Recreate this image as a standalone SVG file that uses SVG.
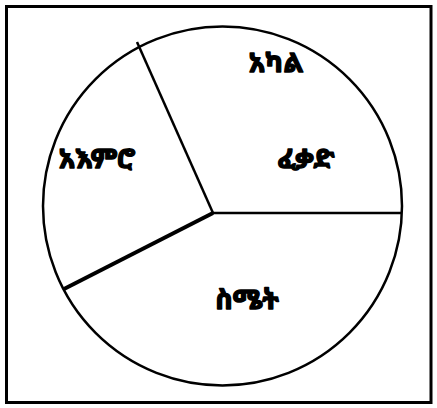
<svg xmlns="http://www.w3.org/2000/svg" width="437" height="408" viewBox="0 0 437 408">
<style>
.ln{stroke:#000;fill:none;stroke-width:2.5}
.lb{font-family:"Noto Sans Ethiopic","DejaVu Sans","Noto Sans",sans-serif;font-weight:bold;font-size:27px;fill:#000;stroke:#000;stroke-width:1.4;stroke-linejoin:round;text-anchor:middle}
</style>
<rect x="0" y="0" width="437" height="408" fill="#fff"/>
<rect x="6.5" y="6.5" width="424.5" height="396" class="ln" style="stroke-width:3"/>
<g id="connectors">
<circle cx="222.5" cy="206" r="179.5" class="ln"/>
<line x1="213" y1="213" x2="137" y2="42" class="ln" stroke-width="3"/>
<line x1="213" y1="213" x2="401" y2="213" class="ln"/>
<line x1="213" y1="213" x2="64" y2="289" class="ln" style="stroke-width:4"/>
</g>
<g id="n1"><text class="lb" x="276" y="72">አካል</text></g>
<g id="n2"><text class="lb" x="306" y="168">ፈቃድ</text></g>
<g id="n3"><text class="lb" x="97" y="168">አእምሮ</text></g>
<g id="n4"><text class="lb" x="247" y="309">ስሜት</text></g>
</svg>
